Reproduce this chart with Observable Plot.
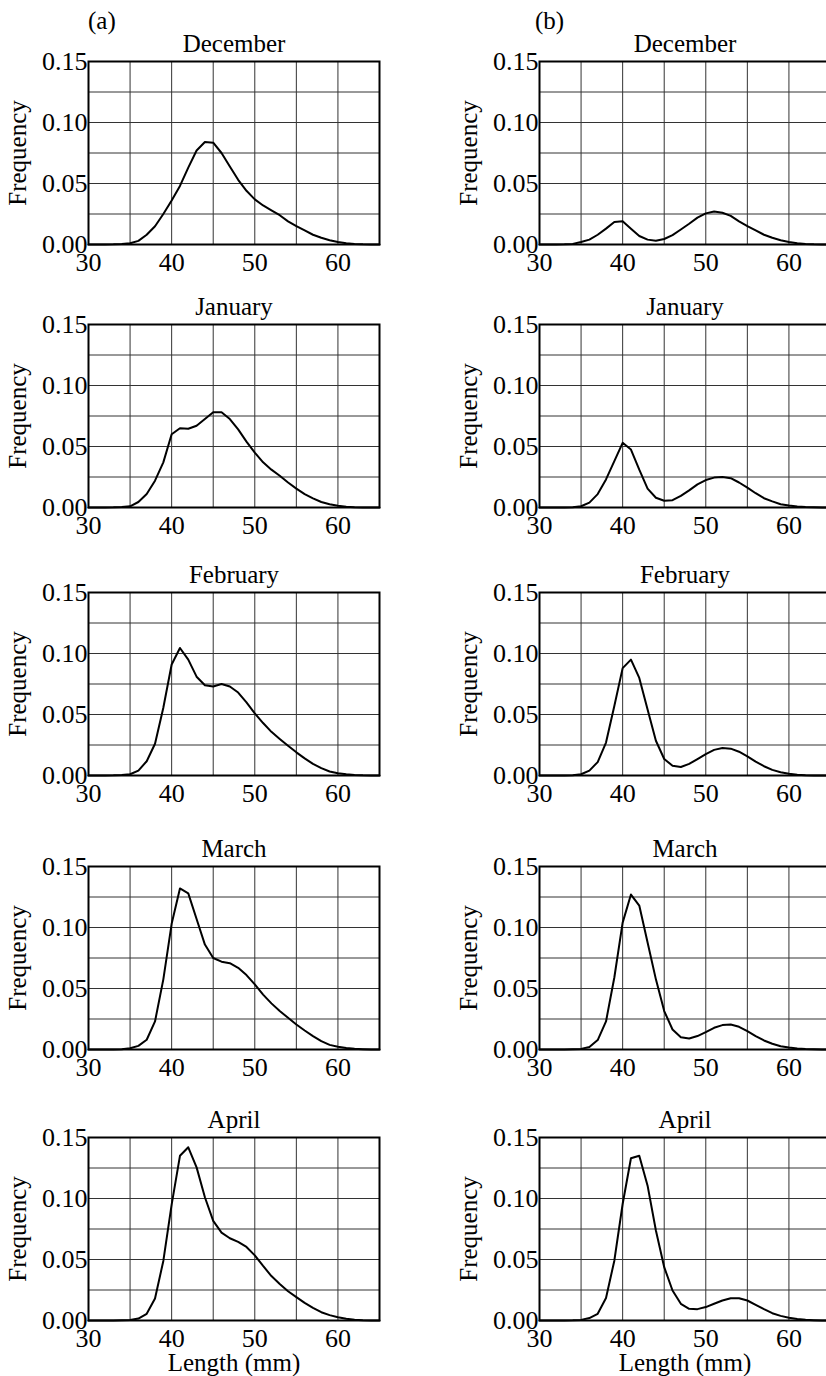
<!DOCTYPE html>
<html>
<head>
<meta charset="utf-8">
<script src="https://cdn.jsdelivr.net/npm/d3@7"></script>
<script src="https://cdn.jsdelivr.net/npm/@observablehq/plot@0.6"></script>
<style>
  html, body { margin: 0; padding: 0; background: #fff; }
  #page { position: relative; width: 826px; height: 1376px; overflow: hidden; background: #fff;
          font-family: "Liberation Serif", "DejaVu Serif", serif; }
  .panel { position: absolute; }
  .tag { position: absolute; font-size: 25px; line-height: 1; color: #000; }
</style>
</head>
<body>
<div id="page">
  <div class="tag" style="left:88px; top:8px;">(a)</div>
  <div class="tag" style="left:535px; top:8px;">(b)</div>
</div>
<script>
// ---- data ----
const lengths = [30,31,32,33,34,35,36,37,38,39,40,41,42,43,44,45,46,47,48,49,50,51,52,53,54,55,56,57,58,59,60,61,62,63,64,65];
const months = ["December", "January", "February", "March", "April"];
const xTicks = [30, 40, 50, 60];
const yTicks = [0, 0.05, 0.10, 0.15];
const xGrid = [35, 40, 45, 50, 55, 60];
const yGrid = [0.025, 0.05, 0.075, 0.10, 0.125];

// column (a)
const decA = [0,0,0.0001,0.0002,0.0005,0.001,0.003,0.008,0.015,0.025,0.036,0.048,0.063,0.077,0.084,0.0835,0.075,0.064,0.053,0.044,0.037,0.032,0.028,0.024,0.019,0.015,0.0115,0.008,0.0055,0.0035,0.002,0.001,0.0005,0.0002,0.0001,0];
const janA = [0,0,0.0001,0.0002,0.0005,0.001,0.0045,0.011,0.022,0.037,0.060,0.065,0.0645,0.067,0.0725,0.078,0.078,0.0725,0.064,0.054,0.045,0.037,0.031,0.026,0.0205,0.0155,0.011,0.0075,0.0045,0.0027,0.0014,0.0007,0.0003,0.0001,0,0];
const febA = [0,0,0.0001,0.0002,0.0005,0.001,0.004,0.0117,0.026,0.0555,0.091,0.1045,0.095,0.081,0.074,0.073,0.075,0.073,0.068,0.060,0.051,0.043,0.0358,0.030,0.0244,0.019,0.014,0.0095,0.006,0.0033,0.0019,0.001,0.0005,0.0002,0.0001,0];
const marA = [0,0,0,0.0001,0.0003,0.001,0.003,0.008,0.023,0.0575,0.103,0.132,0.128,0.107,0.086,0.075,0.072,0.0707,0.067,0.061,0.0534,0.045,0.0378,0.0315,0.026,0.0205,0.0156,0.011,0.0068,0.0038,0.0022,0.0012,0.0006,0.0003,0.0001,0];
const aprA = [0,0,0,0.0001,0.0003,0.0005,0.0016,0.0055,0.018,0.0488,0.095,0.135,0.142,0.1255,0.101,0.0816,0.072,0.0674,0.0644,0.0603,0.0534,0.0447,0.0364,0.030,0.024,0.0192,0.0145,0.0104,0.0068,0.0044,0.0027,0.0015,0.0007,0.0003,0.0001,0];

// column (b)
const decB = [0,0,0.0001,0.0002,0.0005,0.002,0.004,0.008,0.013,0.0185,0.019,0.013,0.007,0.004,0.003,0.0045,0.0077,0.0123,0.017,0.022,0.0255,0.027,0.026,0.0235,0.019,0.015,0.0115,0.008,0.0055,0.0035,0.002,0.001,0.0005,0.0002,0.0001,0];
const janB = [0,0,0,0.0001,0.0003,0.001,0.004,0.011,0.023,0.038,0.053,0.0475,0.031,0.0155,0.008,0.0055,0.006,0.0095,0.014,0.019,0.0225,0.0245,0.025,0.024,0.0205,0.0163,0.0117,0.0076,0.005,0.0027,0.0016,0.0008,0.0004,0.0002,0.0001,0];
const febB = [0,0,0,0.0001,0.0003,0.001,0.004,0.011,0.027,0.057,0.088,0.095,0.080,0.054,0.0285,0.0135,0.008,0.007,0.0095,0.0135,0.0176,0.021,0.0225,0.022,0.0195,0.0157,0.0114,0.0076,0.0046,0.0027,0.0014,0.0007,0.0003,0.0001,0,0];
const marB = [0,0,0,0.0001,0.0003,0.0005,0.002,0.0077,0.023,0.059,0.104,0.127,0.118,0.0877,0.0575,0.0315,0.0164,0.010,0.009,0.011,0.0142,0.0178,0.020,0.0205,0.0186,0.015,0.011,0.0074,0.0047,0.0027,0.0016,0.0008,0.0004,0.0002,0.0001,0];
const aprB = [0,0,0,0.0001,0.0002,0.0005,0.002,0.0055,0.0185,0.049,0.0955,0.133,0.135,0.1105,0.0738,0.0437,0.0246,0.0137,0.0096,0.0093,0.011,0.0137,0.0164,0.0183,0.0183,0.0164,0.0128,0.0093,0.006,0.0038,0.0022,0.0012,0.0006,0.0003,0.0001,0];

const seriesA = [decA, janA, febA, marA, aprA];
const seriesB = [decB, janB, febB, marB, aprB];

// ---- layout ----
const frameTops = [61, 324, 592, 866, 1137];
const frameH = 183;
const frameW = 291;
const mTop = 45, mBottom = 35, mBottomLast = 62;

const page = document.getElementById("page");

function panel(values, title, col, row) {
  const data = lengths.map((x, i) => ({len: x, f: values[i]}));
  const last = row === months.length - 1;
  const marginLeft = col === 0 ? 88 : 126;
  const marginRight = col === 0 ? 34 : 9;
  const width = marginLeft + frameW + marginRight;
  const marginBottom = last ? mBottomLast : mBottom;
  const height = mTop + frameH + marginBottom;
  const marks = [
    Plot.gridX(xGrid, {stroke: "#333", strokeOpacity: 1, strokeWidth: 1}),
    Plot.gridY(yGrid, {stroke: "#333", strokeOpacity: 1, strokeWidth: 1}),
    Plot.frame({stroke: "#000", strokeWidth: 2}),
    Plot.line(data, {x: "len", y: "f", stroke: "#000", strokeWidth: 2}),
    Plot.axisX(xTicks, {tickSize: 0, tickPadding: 8, label: null, fontSize: 26}),
    Plot.axisY(yTicks, {tickSize: 0, tickPadding: 1, label: null, fontSize: 26, tickFormat: d3.format(".2f")}),
    Plot.text([title], {frameAnchor: "top", dy: -10, lineAnchor: "bottom", fontSize: 25}),
    Plot.text(["Frequency"], {frameAnchor: "left", rotate: -90, dx: -63, lineAnchor: "bottom", textAnchor: "middle", fontSize: 25})
  ];
  if (last) {
    marks.push(Plot.text(["Length (mm)"], {frameAnchor: "bottom", dy: 50, lineAnchor: "bottom", fontSize: 25}));
  }
  const svg = Plot.plot({
    width, height,
    marginLeft, marginRight, marginTop: mTop, marginBottom,
    x: {domain: [30, 65], label: null},
    y: {domain: [0, 0.15], label: null},
    style: {fontFamily: "'Liberation Serif', 'DejaVu Serif', serif", fontSize: "25px", color: "#000", background: "transparent", overflow: "visible"},
    marks
  });
  const div = document.createElement("div");
  div.className = "panel";
  div.style.left = (col === 0 ? 0 : 413) + "px";
  div.style.top = (frameTops[row] - mTop) + "px";
  div.style.width = width + "px";
  div.appendChild(svg);
  page.appendChild(div);
}

months.forEach((m, r) => {
  panel(seriesA[r], m, 0, r);
  panel(seriesB[r], m, 1, r);
});
</script>
</body>
</html>
